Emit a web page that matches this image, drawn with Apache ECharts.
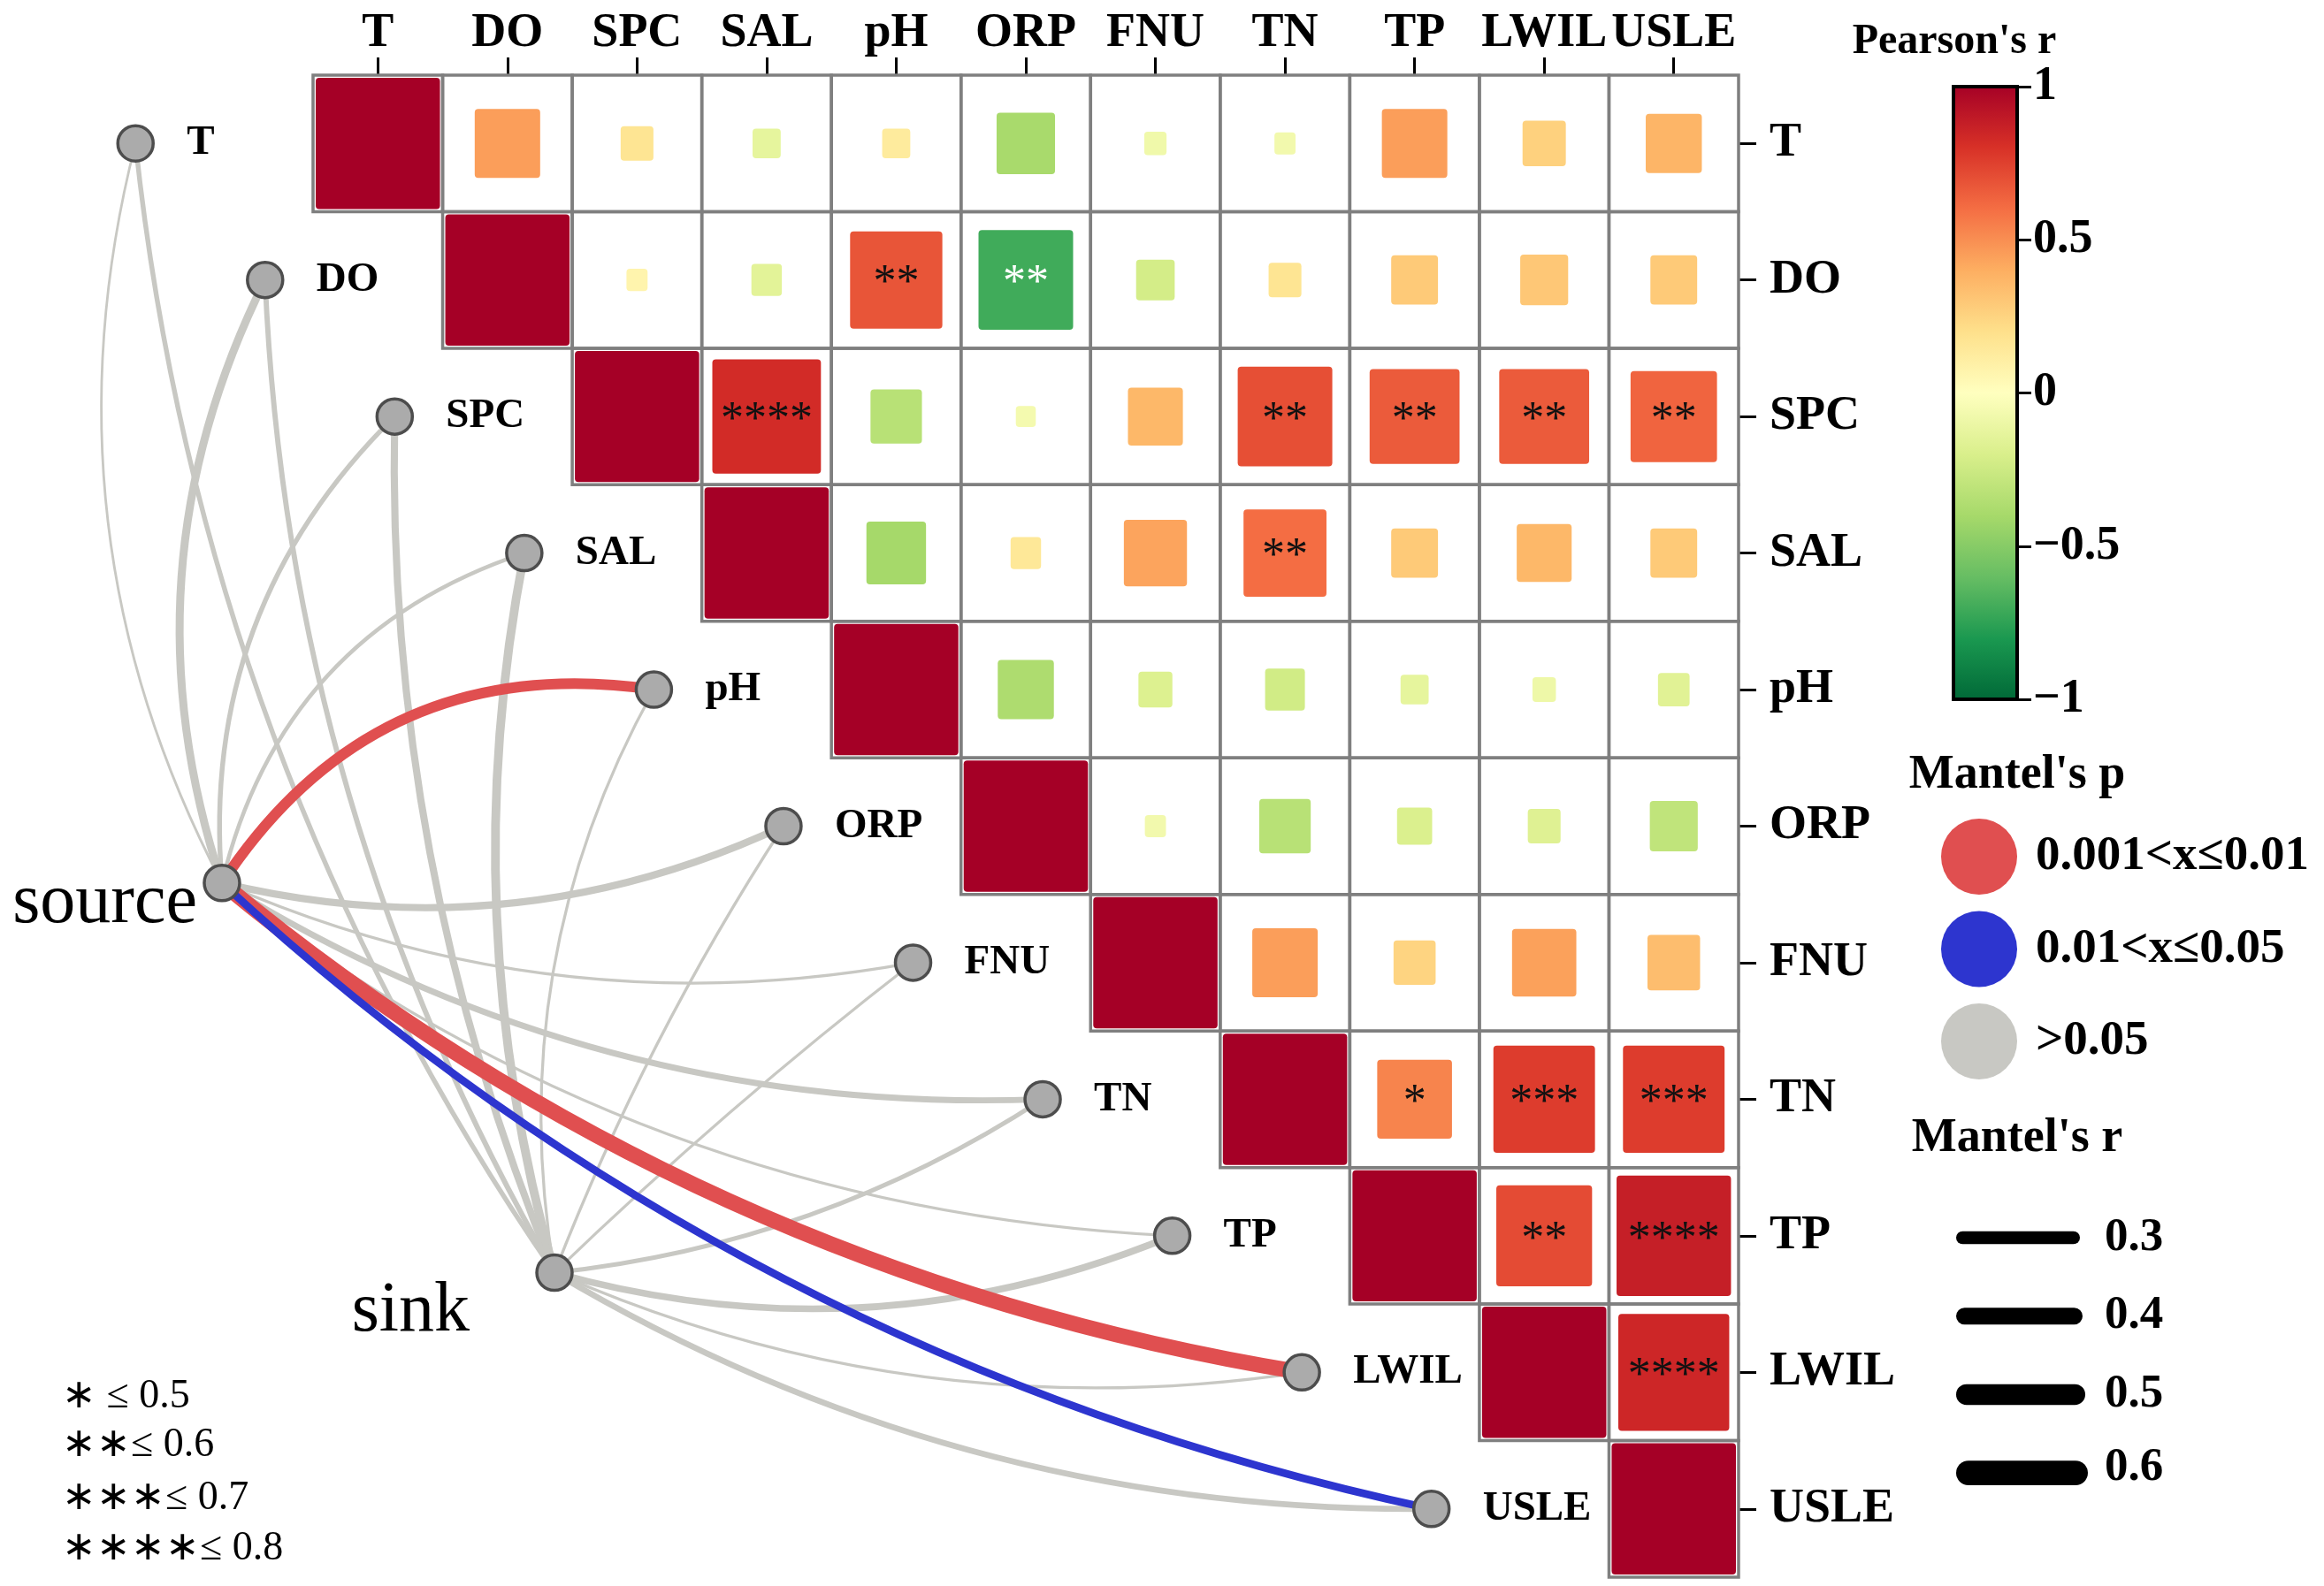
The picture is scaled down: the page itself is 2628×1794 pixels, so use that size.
<!DOCTYPE html>
<html>
<head>
<meta charset="utf-8">
<script src="https://cdn.jsdelivr.net/npm/echarts@6/dist/echarts.min.js"></script>
<style>html,body{margin:0;padding:0;background:#fff}#c{width:2628px;height:1794px}</style>
</head>
<body>
<div id="c"></div>
<script>
// ---------------- DATA ----------------
const variables = ['T','DO','SPC','SAL','pH','ORP','FNU','TN','TP','LWIL','USLE'];

// Pearson's r, upper triangle; row i holds columns i+1 .. 10
const rT    = [0.45, 0.17, -0.13, 0.13, -0.39, -0.08, -0.07, 0.45, 0.26, 0.37];
const rDO   = [0.07, -0.15, 0.68, -0.70, -0.22, 0.17, 0.29, 0.30, 0.29];
const rSPC  = [0.82, -0.33, -0.06, 0.36, 0.70, 0.66, 0.66, 0.63];
const rSAL  = [-0.40, 0.15, 0.43, 0.60, 0.29, 0.36, 0.29];
const rPH   = [-0.37, -0.18, -0.23, -0.13, -0.09, -0.16];
const rORP  = [-0.07, -0.33, -0.19, -0.17, -0.30];
const rFNU  = [0.45, 0.25, 0.44, 0.34];
const rTN   = [0.53, 0.76, 0.76];
const rTP   = [0.71, 0.87];
const rLWIL = [0.84];

// significance marks, same layout
const sT    = ['', '', '', '', '', '', '', '', '', ''];
const sDO   = ['', '', '**', '**', '', '', '', '', ''];
const sSPC  = ['****', '', '', '', '**', '**', '**', '**'];
const sSAL  = ['', '', '', '**', '', '', ''];
const sPH   = ['', '', '', '', '', ''];
const sORP  = ['', '', '', '', ''];
const sFNU  = ['', '', '', ''];
const sTN   = ['*', '***', '***'];
const sTP   = ['**', '****'];
const sLWIL = ['****'];

// Mantel test: source / sink vs each variable
const mantelSourceR = [0.03, 0.17, 0.09, 0.07, 0.24, 0.15, 0.04, 0.12, 0.04, 0.36, 0.16];
const mantelSourceP = ['>0.05','>0.05','>0.05','>0.05','0.001<x≤0.01','>0.05','>0.05','>0.05','>0.05','0.001<x≤0.01','0.01<x≤0.05'];
const mantelSinkR   = [0.09, 0.10, 0.15, 0.19, 0.04, 0.04, 0.04, 0.08, 0.14, 0.04, 0.12];
const mantelSinkP   = ['>0.05','>0.05','>0.05','>0.05','>0.05','>0.05','>0.05','>0.05','>0.05','>0.05','>0.05'];

// legends
const pClasses = ['0.001<x≤0.01', '0.01<x≤0.05', '>0.05'];
const rLegend = [0.3, 0.4, 0.5, 0.6];
const sigNotes = ['∗ ≤ 0.5', '∗∗≤ 0.6', '∗∗∗≤ 0.7', '∗∗∗∗≤ 0.8'];

// ---------------- STYLE / LAYOUT ----------------
const SERIF = '"Liberation Serif", "Times New Roman", serif';
const palette = ['#006837','#1a9850','#66bd63','#a6d96a','#d9ef8b','#ffffbf','#fee08b','#fdae61','#f46d43','#d73027','#a50026'];
const pColors = {'0.001<x≤0.01':'#E04F50', '0.01<x≤0.05':'#2D35CF', '>0.05':'#C8C8C3'};
const widthOf = r => 1.5 + 44 * r;
const GL = 354, GT = 85, GW = 1612, GH = 1699;
const CB = {left: 2209, top: 98, width: 72, height: 693};
const NODE_SHIFT = 1.87;
const HUBS = [
  {name:'source', u:-1.203, v:5.416, dx:-28, dy:23},
  {name:'sink',   u:1.363,  v:8.27,  dx:-96, dy:44}
];
// bend of each link (in cell widths, + = left of hub->node direction)
const bendSource = [0.55, 0.48, 0.45, 0.48, 0.58, -0.38, -0.41, -0.5, -0.62, -0.62, -0.72];
const bendSink   = [0.59, 0.49, 0.35, 0.33, 0.40, 0.10, 0.05, -0.24, -0.41, -0.42, -0.49];

// ---------------- BUILD ----------------
const pearsonRows = [rT, rDO, rSPC, rSAL, rPH, rORP, rFNU, rTN, rTP, rLWIL, []];
const starRows = [sT, sDO, sSPC, sSAL, sPH, sORP, sFNU, sTN, sTP, sLWIL, []];
const cells = [];
for (let i = 0; i < variables.length; i++) {
  for (let j = i; j < variables.length; j++) {
    const r = i === j ? 1 : pearsonRows[i][j - i - 1];
    const star = i === j ? '' : starRows[i][j - i - 1];
    cells.push({row: i, col: j, r: r, star: star});
  }
}
const edges = [];
variables.forEach((v, i) => edges.push({hub: 0, target: i, r: mantelSourceR[i], p: mantelSourceP[i], bend: bendSource[i]}));
variables.forEach((v, i) => edges.push({hub: 1, target: i, r: mantelSinkR[i], p: mantelSinkP[i], bend: bendSink[i]}));
edges.sort((a, b) => (a.p === '>0.05' ? 0 : 1) - (b.p === '>0.05' ? 0 : 1));

const nodes = variables.map((v, i) => ({u: i - NODE_SHIFT, v: i, name: v, hub: false}))
  .concat(HUBS.map(h => ({u: h.u, v: h.v, name: h.name, hub: true, dx: h.dx, dy: h.dy})));

const chart = echarts.init(document.getElementById('c'));

const axisFont = {fontFamily: SERIF, fontWeight: 'bold', fontSize: 54, color: '#000'};

const option = {
  animation: false,
  backgroundColor: '#fff',
  grid: [
    {left: GL, top: GT, width: GW, height: GH},
    {left: CB.left, top: CB.top, width: CB.width, height: CB.height}
  ],
  xAxis: [
    {type: 'category', gridIndex: 0, position: 'top', data: variables,
     axisLine: {show: false, onZero: false}, splitLine: {show: false},
     axisTick: {show: true, alignWithLabel: true, length: 20, lineStyle: {color: '#000', width: 3}},
     axisLabel: Object.assign({interval: 0, margin: 20}, axisFont)},
    {type: 'value', gridIndex: 0, min: -0.5, max: 10.5, show: false, axisLine: {onZero: false}},
    {type: 'value', gridIndex: 1, min: 0, max: 1, show: false, axisLine: {onZero: false}}
  ],
  yAxis: [
    {type: 'category', gridIndex: 0, position: 'right', inverse: true, data: variables,
     axisLine: {show: false, onZero: false}, splitLine: {show: false},
     axisTick: {show: true, alignWithLabel: true, length: 20, lineStyle: {color: '#000', width: 3}},
     axisLabel: Object.assign({interval: 0, margin: 35}, axisFont)},
    {type: 'value', gridIndex: 0, min: -0.5, max: 10.5, inverse: true, show: false, axisLine: {onZero: false}},
    {type: 'value', gridIndex: 1, min: -1, max: 1, interval: 0.5, position: 'right',
     axisLine: {show: true, onZero: false, lineStyle: {color: '#000', width: 4}},
     axisTick: {show: true, length: 16, lineStyle: {color: '#000', width: 3}},
     splitLine: {show: false},
     axisLabel: Object.assign({margin: 18, formatter: v => (v < 0 ? '−' + Math.abs(v) : String(v))}, axisFont)}
  ],
  visualMap: {type: 'continuous', show: false, min: -1, max: 1, dimension: 2, seriesIndex: 0,
              inRange: {color: palette}},
  series: [
    { // correlation squares
      type: 'custom', xAxisIndex: 1, yAxisIndex: 1, z: 2,
      data: cells.map(c => [c.col, c.row, c.r]),
      renderItem: function (params, api) {
        const cell = cells[params.dataIndex];
        const c = api.coord([cell.col, cell.row]);
        const sz = api.size([1, 1]);
        const cw = Math.abs(sz[0]), ch = Math.abs(sz[1]);
        const f = cell.row === cell.col ? 1 : 0.1 + 0.9 * Math.abs(cell.r);
        const w = Math.min(f * cw, cw - 6), h = Math.min(f * ch, ch - 6);
        const children = [
          {type: 'rect', shape: {x: c[0] - cw / 2, y: c[1] - ch / 2, width: cw, height: ch},
           style: {fill: 'none', stroke: '#7f7f7f', lineWidth: 3.5}},
          {type: 'rect', shape: {x: c[0] - w / 2, y: c[1] - h / 2, width: w, height: h, r: 4},
           style: {fill: api.visual('color')}}
        ];
        if (cell.star) {
          children.push({type: 'text', x: c[0], y: c[1] + 5,
            style: {text: cell.star, fill: cell.r < -0.5 ? '#ffffff' : '#111111',
                    font: '52px ' + SERIF, align: 'center', verticalAlign: 'middle',
                    textAlign: 'center', textVerticalAlign: 'middle'}});
        }
        return {type: 'group', children: children};
      }
    },
    { // mantel links
      type: 'custom', xAxisIndex: 1, yAxisIndex: 1, z: 3, clip: false,
      data: edges.map(e => [e.target - NODE_SHIFT, e.target, e.r]),
      renderItem: function (params, api) {
        const e = edges[params.dataIndex];
        const hub = HUBS[e.hub];
        const p0 = api.coord([hub.u, hub.v]);
        const p1 = api.coord([e.target - NODE_SHIFT, e.target]);
        const cw = Math.abs(api.size([1, 1])[0]);
        const dx = p1[0] - p0[0], dy = p1[1] - p0[1];
        const L = Math.hypot(dx, dy);
        const nx = dy / L, ny = -dx / L;
        const dev = e.bend * cw;
        const cx = (p0[0] + p1[0]) / 2 + nx * 2 * dev;
        const cy = (p0[1] + p1[1]) / 2 + ny * 2 * dev;
        return {type: 'bezierCurve',
          shape: {x1: p0[0], y1: p0[1], x2: p1[0], y2: p1[1], cpx1: cx, cpy1: cy},
          style: {fill: 'none', stroke: pColors[e.p], lineWidth: widthOf(e.r)}};
      }
    },
    { // nodes
      type: 'custom', xAxisIndex: 1, yAxisIndex: 1, z: 4, clip: false,
      data: nodes.map(n => [n.u, n.v, 0]),
      renderItem: function (params, api) {
        const n = nodes[params.dataIndex];
        const c = api.coord([n.u, n.v]);
        const children = [
          {type: 'circle', shape: {cx: c[0], cy: c[1], r: 20},
           style: {fill: '#ababab', stroke: '#4d4d4d', lineWidth: 3.5}}
        ];
        if (n.hub) {
          children.push({type: 'text', x: c[0] + n.dx, y: c[1] + n.dy,
            style: {text: n.name, fill: '#000', font: '80px ' + SERIF,
                    align: 'right', verticalAlign: 'middle', textAlign: 'right', textVerticalAlign: 'middle'}});
        } else {
          children.push({type: 'text', x: c[0] + 58, y: c[1],
            style: {text: n.name, fill: '#000', font: 'bold 47px ' + SERIF,
                    align: 'left', verticalAlign: 'middle', textAlign: 'left', textVerticalAlign: 'middle'}});
        }
        return {type: 'group', children: children};
      }
    },
    { // colour bar
      type: 'custom', xAxisIndex: 2, yAxisIndex: 2, z: 2,
      data: [[0.5, 0, 0]],
      renderItem: function (params, api) {
        const a = api.coord([0, 1]);
        const b = api.coord([1, -1]);
        return {type: 'rect',
          shape: {x: a[0], y: a[1], width: b[0] - a[0], height: b[1] - a[1]},
          style: {fill: {type: 'linear', x: 0, y: 1, x2: 0, y2: 0,
                         colorStops: palette.map((col, i) => ({offset: i / (palette.length - 1), color: col}))},
                  stroke: '#000', lineWidth: 4}};
      }
    }
  ],
  graphic: []
};

// ---------------- LEGENDS / NOTES (graphic) ----------------
const g = option.graphic;
const boldFont = s => 'bold ' + s + 'px ' + SERIF;
const txt = (x, y, text, font, align) => ({type: 'text', x: x, y: y,
  style: {text: text, font: font, fill: '#000', align: align, verticalAlign: 'middle', textAlign: align, textVerticalAlign: 'middle'}});
g.push(txt(2210, 48, "Pearson's r", boldFont(48), 'center'));
g.push(txt(2281, 877, "Mantel's p", boldFont(54), 'center'));
g.push(txt(2281, 1288, "Mantel's r", boldFont(54), 'center'));
pClasses.forEach((p, i) => {
  const y = 969 + i * 104.5;
  g.push({type: 'circle', shape: {cx: 2238, cy: y, r: 43}, style: {fill: pColors[p]}});
  g.push(txt(2302, y, p, boldFont(55), 'left'));
});
rLegend.forEach((r, i) => {
  const y = 1400 + i * 88.7;
  const w = widthOf(r);
  g.push({type: 'line', shape: {x1: 2212 + w / 2, y1: y, x2: 2352 + i * 3 - w / 2, y2: y},
          style: {stroke: '#000', lineWidth: w, lineCap: 'round'}});
  g.push(txt(2380, y - (i === 3 ? 6 : 0), String(r), boldFont(53), 'left'));
});
sigNotes.forEach((t, i) => {
  const y = [1580, 1635, 1695, 1752][i];
  g.push(txt(70, y, t, '46px ' + SERIF, 'left'));
});

chart.setOption(option);
</script>
</body>
</html>
